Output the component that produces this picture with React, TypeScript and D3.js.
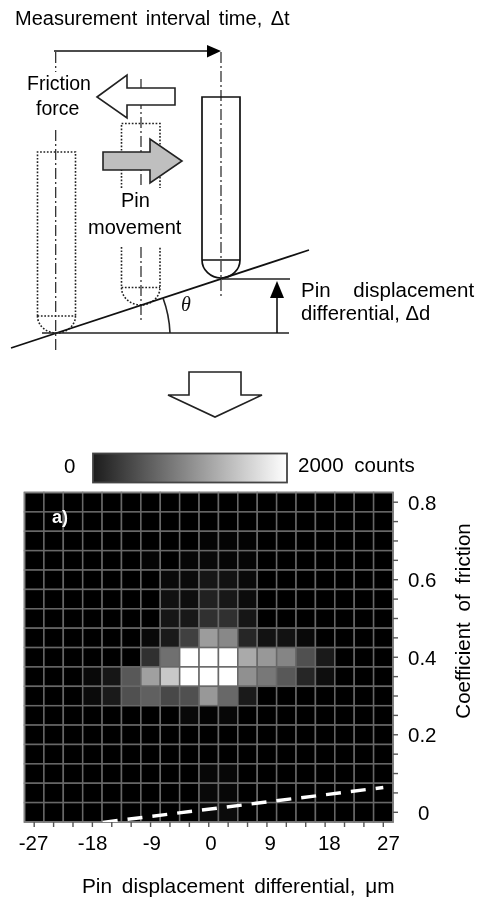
import React from "react";
import * as d3 from "d3";

// Heat map: friction coefficient (rows) against displacement differential (columns)
const displacementUm = [-27, -24, -21, -18, -15, -12, -9, -6, -3, 0, 3, 6, 9, 12, 15, 18, 21, 24, 27];
const frictionBins = [0.8, 0.75, 0.7, 0.65, 0.6, 0.55, 0.5, 0.45, 0.4, 0.35, 0.3, 0.25, 0.2, 0.15, 0.1, 0.05, 0];
const xTickLabels = [-27, -18, -9, 0, 9, 18, 27];
const yTickLabels = [0.8, 0.6, 0.4, 0.2, 0];
const counts: number[][] = [
  [0, 0, 0, 0, 0, 0, 0, 0, 0, 0, 0, 0, 0, 0, 0, 0, 0, 0, 0],
  [0, 0, 0, 0, 0, 0, 0, 0, 0, 0, 0, 0, 0, 0, 0, 0, 0, 0, 0],
  [0, 0, 0, 0, 0, 0, 0, 0, 0, 35, 35, 25, 0, 0, 0, 0, 0, 0, 0],
  [0, 0, 0, 0, 0, 0, 40, 0, 50, 70, 50, 50, 0, 0, 0, 0, 0, 0, 0],
  [0, 0, 0, 0, 0, 0, 0, 80, 80, 170, 140, 80, 0, 0, 0, 0, 0, 0, 0],
  [0, 0, 0, 0, 0, 0, 0, 135, 110, 260, 185, 95, 0, 0, 0, 0, 0, 0, 0],
  [0, 0, 0, 0, 0, 0, 0, 170, 185, 375, 375, 170, 0, 0, 0, 0, 0, 0, 0],
  [0, 0, 0, 0, 0, 0, 70, 200, 500, 1225, 1065, 300, 140, 140, 70, 0, 0, 0, 0],
  [0, 0, 0, 0, 0, 0, 375, 880, 2000, 2000, 2000, 1335, 1190, 1045, 625, 200, 0, 0, 0],
  [0, 0, 0, 70, 170, 690, 1255, 1570, 2000, 2000, 2000, 1130, 940, 690, 300, 110, 0, 0, 0],
  [0, 0, 0, 85, 200, 625, 750, 565, 625, 1190, 815, 200, 0, 0, 0, 0, 0, 0, 0],
  [0, 0, 0, 0, 0, 0, 0, 0, 70, 25, 55, 0, 0, 0, 0, 0, 0, 0, 0],
  [0, 0, 0, 0, 0, 0, 0, 0, 0, 0, 0, 0, 0, 0, 0, 0, 0, 0, 0],
  [0, 0, 0, 0, 0, 0, 0, 0, 0, 0, 0, 0, 0, 0, 0, 0, 0, 0, 0],
  [0, 0, 0, 0, 0, 0, 0, 0, 0, 55, 55, 0, 0, 0, 0, 0, 0, 0, 0],
  [0, 0, 0, 0, 0, 0, 0, 0, 0, 70, 55, 0, 0, 0, 0, 0, 0, 0, 0],
  [0, 0, 0, 0, 0, 0, 0, 0, 0, 70, 85, 0, 0, 0, 0, 0, 0, 0, 0],
];
const baselineX = [-16.4, 27];
const baselineY = [-0.026, 0.064];
const maxCount = 2000;

const FONT = "'Liberation Sans', Arial, sans-serif";
const PLOT = { left: 24.5, right: 393, top: 492.5, bottom: 822 };

const x = d3.scaleLinear().domain([-27, 27]).range([34.2, 383.3]);
const xLabel = d3.scaleLinear().domain([-27, 27]).range([33.5, 388.5]);
const y = d3.scaleLinear().domain([0.8, 0]).range([502.2, 812.3]);
const grey = d3.scaleLinear().domain([0, maxCount]).range([0, 255]);
const cellW = x(3) - x(0);
const cellH = y(0.75) - y(0.8);
const colour = (c: number) => {
  const g = Math.round(grey(c));
  return `rgb(${g},${g},${g})`;
};
const baselinePath = d3.line<number>().x((d) => x(d)).y((_, i) => y(baselineY[i]))(baselineX) as string;

const T = ({ x: tx, y: ty, children, ws = 0, anchor = "start", size = 20, ...rest }: any) => (
  <text x={tx} y={ty} fontFamily={FONT} fontSize={size} fill="#000" textAnchor={anchor} wordSpacing={ws} {...rest}>
    {children}
  </text>
);

const Pin = ({ l, r, top, neck, tip, dotted }: { l: number; r: number; top: number; neck: number; tip: number; dotted: boolean }) => (
  <path
    d={`M${l},${neck} V${top} H${r} V${neck} M${l},${neck} H${r} M${l},${neck} A${(r - l) / 2},${tip - neck} 0 0 0 ${r},${neck}`}
    fill="none"
    stroke={dotted ? "#222" : "#111"}
    strokeWidth={dotted ? 1.6 : 1.7}
    strokeDasharray={dotted ? "1.7 1.7" : undefined}
  />
);

const DashDot = ({ px, y1, y2 }: { px: number; y1: number; y2: number }) => (
  <line x1={px} x2={px} y1={y1} y2={y2} stroke="#222" strokeWidth={1.2} strokeDasharray="11 3 2 3" />
);

export default function App() {
  return (
    <svg
      width={478}
      height={899}
      viewBox="0 0 478 899"
      style={{ position: "absolute", left: 0, top: 0, background: "#fff", filter: "blur(0.35px)" }}
    >
      <defs>
        <linearGradient id="bar" x1="0" x2="1" y1="0" y2="0">
          <stop offset="0" stopColor="#1c1c1c" />
          <stop offset="1" stopColor="#ffffff" />
        </linearGradient>
      </defs>

      {/* Schematic */}
      <T x={15} y={25} ws={3} size={20}>Measurement interval time, Δt</T>
      <line x1={54} x2={208} y1={51} y2={51} stroke="#111" strokeWidth={1.6} />
      <path d="M207,45 L221,51 L207,57.5 Z" fill="#000" />

      <DashDot px={55.7} y1={52} y2={72} />
      <DashDot px={55.7} y1={130} y2={352} />
      <DashDot px={141} y1={79} y2={185} />
      <DashDot px={141} y1={247} y2={320} />
      <DashDot px={221} y1={52} y2={296} />

      <Pin l={37.5} r={75.5} top={152} neck={316} tip={333} dotted />
      <path d="M121.5,188 V123.5 H160 V188" fill="none" stroke="#222" strokeWidth={1.6} strokeDasharray="1.7 1.7" />
      <path d="M121.5,247 V287.5 A19.25,17.5 0 0 0 160,287.5 V247 M121.5,287.5 H160" fill="none" stroke="#222" strokeWidth={1.6} strokeDasharray="1.7 1.7" />
      <Pin l={202} r={240} top={97} neck={260} tip={278} dotted={false} />

      <line x1={11} y1={348} x2={309} y2={250} stroke="#111" strokeWidth={1.8} />
      <line x1={42} y1={333} x2={289} y2={333} stroke="#222" strokeWidth={1.4} />
      <line x1={222} y1={279} x2={290} y2={279} stroke="#222" strokeWidth={1.4} />
      <path d="M163,298 A114,114 0 0 1 170,333" fill="none" stroke="#222" strokeWidth={1.6} />
      <line x1={277} x2={277} y1={297} y2={333} stroke="#111" strokeWidth={1.6} />
      <path d="M270,298 L284,298 L277,281 Z" fill="#000" />

      <path d="M97,97 L127,75 V88 H175 V105 H127 V118 Z" fill="#fff" stroke="#222" strokeWidth={1.6} />
      <path d="M103,152 H150 V139 L182,161 L150,183 V170 H103 Z" fill="#bfbfbf" stroke="#222" strokeWidth={1.6} />

      <T x={27} y={90} size={19.5}>Friction</T>
      <T x={36} y={115} size={19.5}>force</T>
      <T x={121} y={207}>Pin</T>
      <T x={88} y={234}>movement</T>
      <text x={181} y={311} fontFamily="'Liberation Serif', serif" fontStyle="italic" fontSize={20} fill="#111">θ</text>
      <T x={301} y={296.5} ws={17} size={20.5}>Pin displacement</T>
      <T x={301} y={320} size={20.3}>differential, Δd</T>

      <path d="M189,372 H241 V395 H262 L215,417 L168,395 H189 Z" fill="#fff" stroke="#222" strokeWidth={1.6} />

      {/* Colour bar */}
      <T x={64} y={473} size={20.5}>0</T>
      <rect x={93} y={453.5} width={194} height={29} fill="url(#bar)" stroke="#444" strokeWidth={1.8} />
      <T x={298} y={472} ws={5} size={20.5}>2000 counts</T>

      {/* Heat map */}
      <rect x={PLOT.left} y={PLOT.top} width={PLOT.right - PLOT.left} height={PLOT.bottom - PLOT.top} fill="#000" />
      {frictionBins.map((f, r) =>
        displacementUm.map((d, c) => (
          <rect
            key={`${r}-${c}`}
            x={x(d) - cellW / 2}
            y={y(f) - cellH / 2}
            width={cellW}
            height={cellH}
            fill={colour(counts[r][c])}
            stroke="#686868"
            strokeWidth={1.5}
          />
        )),
      )}
      <rect x={PLOT.left} y={PLOT.top} width={PLOT.right - PLOT.left} height={PLOT.bottom - PLOT.top} fill="none" stroke="#808080" strokeWidth={1.6} />
      <clipPath id="plot">
        <rect x={PLOT.left} y={PLOT.top} width={PLOT.right - PLOT.left} height={PLOT.bottom - PLOT.top} />
      </clipPath>
      <path d={baselinePath} clipPath="url(#plot)" fill="none" stroke="#fff" strokeWidth={3.4} strokeDasharray="15 10" />
      <text x={52} y={523} fontFamily={FONT} fontWeight="bold" fontSize={18} fill="#fff">a)</text>

      {/* Axes */}
      {displacementUm.map((d) => (
        <line key={d} x1={x(d)} x2={x(d)} y1={PLOT.bottom} y2={PLOT.bottom + 5} stroke="#555" strokeWidth={1.4} />
      ))}
      {frictionBins.map((f) => (
        <line key={f} x1={PLOT.right} x2={PLOT.right + 5} y1={y(f)} y2={y(f)} stroke="#555" strokeWidth={1.4} />
      ))}
      {xTickLabels.map((d) => (
        <T key={d} x={xLabel(d)} y={849.5} anchor="middle" size={20.5}>{d}</T>
      ))}
      {yTickLabels.map((f) => (
        <T key={f} x={f === 0 ? 418 : 408} y={y(f) + 7.5} size={20.5}>{f}</T>
      ))}
      <T x={82} y={893} ws={4} size={20.8}>Pin displacement differential, μm</T>
      <T x={0} y={0} anchor="middle" ws={5} size={20.5} transform="translate(470,621) rotate(-90)">Coefficient of friction</T>
    </svg>
  );
}
